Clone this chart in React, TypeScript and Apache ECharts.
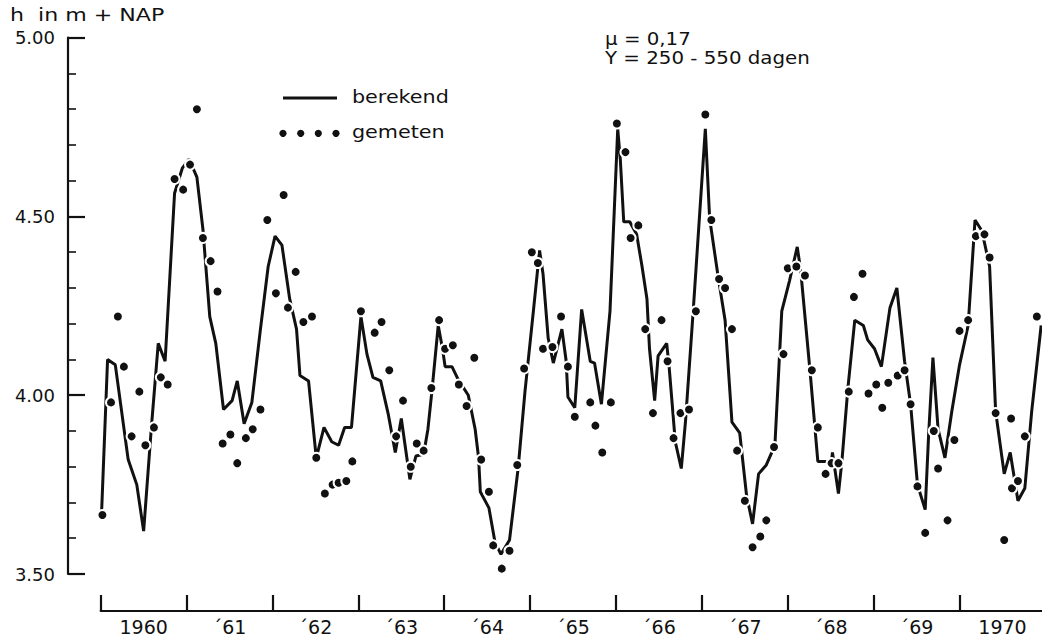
import React, { useEffect, useRef } from "react";
import * as echarts from "echarts";

// Berekende stijghoogte (h in m + NAP), [jaar, h]
const berekend: [number, number][] = [
  [1960.01, 3.67], [1960.08, 4.10], [1960.17, 4.085], [1960.32, 3.82], [1960.42, 3.75], [1960.50, 3.62],
  [1960.59, 3.91], [1960.67, 4.145], [1960.75, 4.095], [1960.86, 4.565], [1960.95, 4.635], [1961.03, 4.66],
  [1961.12, 4.61], [1961.19, 4.465], [1961.27, 4.22], [1961.34, 4.145], [1961.43, 3.96], [1961.53, 3.985],
  [1961.59, 4.04], [1961.67, 3.92], [1961.76, 3.98], [1961.86, 4.185], [1961.95, 4.36], [1962.03, 4.445],
  [1962.11, 4.42], [1962.20, 4.27], [1962.28, 4.185], [1962.32, 4.055], [1962.42, 4.04], [1962.51, 3.825],
  [1962.60, 3.91], [1962.69, 3.87], [1962.77, 3.86], [1962.84, 3.91], [1962.92, 3.91], [1963.03, 4.22],
  [1963.10, 4.115], [1963.17, 4.05], [1963.26, 4.04], [1963.35, 3.945], [1963.43, 3.84], [1963.50, 3.935],
  [1963.60, 3.765], [1963.67, 3.83], [1963.76, 3.835], [1963.81, 3.905], [1963.86, 4.02], [1963.93, 4.195],
  [1963.98, 4.13], [1964.01, 4.08], [1964.09, 4.08], [1964.16, 4.045], [1964.28, 4.00], [1964.36, 3.905],
  [1964.40, 3.825], [1964.42, 3.73], [1964.52, 3.685], [1964.59, 3.59], [1964.66, 3.555], [1964.76, 3.595],
  [1964.86, 3.795], [1964.94, 4.01], [1965.04, 4.24], [1965.11, 4.405], [1965.15, 4.34], [1965.21, 4.16],
  [1965.27, 4.09], [1965.37, 4.185], [1965.42, 4.095], [1965.44, 3.995], [1965.52, 3.965], [1965.60, 4.24],
  [1965.70, 4.095], [1965.75, 4.09], [1965.83, 3.975], [1965.93, 4.235], [1966.02, 4.745], [1966.05, 4.66],
  [1966.09, 4.485], [1966.16, 4.485], [1966.24, 4.45], [1966.30, 4.365], [1966.36, 4.27], [1966.39, 4.13],
  [1966.45, 3.985], [1966.49, 4.11], [1966.59, 4.145], [1966.62, 4.075], [1966.69, 3.87], [1966.76, 3.795],
  [1966.81, 3.93], [1966.90, 4.24], [1967.04, 4.745], [1967.09, 4.495], [1967.19, 4.33], [1967.27, 4.21],
  [1967.35, 3.925], [1967.44, 3.895], [1967.52, 3.72], [1967.59, 3.64], [1967.66, 3.78], [1967.75, 3.805],
  [1967.85, 3.86], [1967.93, 4.235], [1968.02, 4.32], [1968.11, 4.415], [1968.15, 4.35], [1968.26, 4.065],
  [1968.35, 3.815], [1968.51, 3.815], [1968.52, 3.84], [1968.59, 3.725], [1968.63, 3.815], [1968.70, 4.02],
  [1968.78, 4.21], [1968.88, 4.195], [1968.93, 4.155], [1969.01, 4.13], [1969.09, 4.08], [1969.19, 4.245],
  [1969.27, 4.30], [1969.36, 4.095], [1969.43, 3.975], [1969.51, 3.75], [1969.60, 3.68], [1969.64, 3.89],
  [1969.69, 4.105], [1969.75, 3.905], [1969.83, 3.825], [1969.91, 3.955], [1970.00, 4.085], [1970.10, 4.195],
  [1970.18, 4.49], [1970.26, 4.46], [1970.35, 4.36], [1970.42, 3.955], [1970.52, 3.78], [1970.59, 3.84],
  [1970.68, 3.705], [1970.76, 3.74], [1970.84, 3.955], [1970.95, 4.195],
];

// Gemeten stijghoogte (h in m + NAP), [jaar, h]
const gemeten: [number, number][] = [
  [1960.02, 3.665], [1960.12, 3.98], [1960.20, 4.22], [1960.27, 4.08], [1960.36, 3.885], [1960.45, 4.01],
  [1960.52, 3.86], [1960.62, 3.91], [1960.70, 4.05], [1960.78, 4.03], [1960.86, 4.605], [1960.96, 4.575],
  [1961.04, 4.645], [1961.12, 4.80], [1961.19, 4.44], [1961.28, 4.375], [1961.36, 4.29], [1961.42, 3.865],
  [1961.51, 3.89], [1961.59, 3.81], [1961.69, 3.88], [1961.77, 3.905], [1961.86, 3.96], [1961.94, 4.49],
  [1962.04, 4.285], [1962.13, 4.56], [1962.18, 4.245], [1962.27, 4.345], [1962.36, 4.205], [1962.46, 4.22],
  [1962.51, 3.825], [1962.61, 3.725], [1962.70, 3.75], [1962.77, 3.755], [1962.86, 3.76], [1962.93, 3.815],
  [1963.03, 4.235], [1963.19, 4.175], [1963.27, 4.205], [1963.36, 4.07], [1963.44, 3.885], [1963.52, 3.985],
  [1963.61, 3.80], [1963.68, 3.865], [1963.76, 3.845], [1963.85, 4.02], [1963.94, 4.21], [1964.01, 4.13],
  [1964.10, 4.14], [1964.17, 4.03], [1964.26, 3.97], [1964.35, 4.105], [1964.43, 3.82], [1964.52, 3.73],
  [1964.57, 3.58], [1964.67, 3.515], [1964.76, 3.565], [1964.85, 3.805], [1964.93, 4.075], [1965.02, 4.40],
  [1965.09, 4.37], [1965.15, 4.13], [1965.26, 4.135], [1965.36, 4.22], [1965.44, 4.08], [1965.52, 3.94],
  [1965.70, 3.98], [1965.76, 3.915], [1965.84, 3.84], [1965.94, 3.98], [1966.01, 4.76], [1966.11, 4.68],
  [1966.17, 4.44], [1966.26, 4.475], [1966.34, 4.185], [1966.43, 3.95], [1966.53, 4.21], [1966.60, 4.095],
  [1966.67, 3.88], [1966.75, 3.95], [1966.85, 3.96], [1966.93, 4.235], [1967.04, 4.785], [1967.11, 4.49],
  [1967.20, 4.325], [1967.27, 4.30], [1967.35, 4.185], [1967.41, 3.845], [1967.50, 3.705], [1967.59, 3.575],
  [1967.68, 3.605], [1967.75, 3.65], [1967.84, 3.855], [1967.95, 4.115], [1968.00, 4.355], [1968.10, 4.36],
  [1968.20, 4.335], [1968.28, 4.07], [1968.35, 3.91], [1968.44, 3.78], [1968.51, 3.81], [1968.59, 3.81],
  [1968.71, 4.01], [1968.77, 4.275], [1968.87, 4.34], [1968.94, 4.005], [1969.03, 4.03], [1969.10, 3.965],
  [1969.17, 4.035], [1969.28, 4.055], [1969.36, 4.07], [1969.43, 3.975], [1969.51, 3.745], [1969.60, 3.615],
  [1969.70, 3.90], [1969.75, 3.795], [1969.86, 3.65], [1969.94, 3.875], [1970.00, 4.18], [1970.10, 4.21],
  [1970.19, 4.445], [1970.29, 4.45], [1970.35, 4.385], [1970.42, 3.95], [1970.52, 3.595], [1970.60, 3.935],
  [1970.61, 3.74], [1970.68, 3.76], [1970.76, 3.885], [1970.90, 4.22],
];

// Jaargrenzen (streepjes) en jaartallen (midden van elk jaar)
const yearTicks = [1960, 1961, 1962, 1963, 1964, 1965, 1966, 1967, 1968, 1969, 1970];
const yearLabelPos = [1960.5, 1961.5, 1962.5, 1963.5, 1964.5, 1965.5, 1966.5, 1967.5, 1968.5, 1969.5, 1970.5];
const yearLabels = ["1960", "´61", "´62", "´63", "´64", "´65", "´66", "´67", "´68", "´69", "1970"];

const INK = "#111";
const FONT = "DejaVu Sans";

export default function App() {
  const ref = useRef<HTMLDivElement>(null);

  useEffect(() => {
    if (!ref.current) return;
    const chart = echarts.init(ref.current, null, { renderer: "svg" });
    const axisStroke = { color: INK, width: 2.2 };

    const txt = (text: string, x: number, y: number, size: number, sx: number) => ({
      type: "text",
      x,
      y,
      scaleX: sx,
      style: { text, fontSize: size, fontFamily: FONT, fill: INK, align: "left", verticalAlign: "middle" },
    });

    chart.setOption({
      animation: false,
      backgroundColor: "#fff",
      grid: { left: 100.7, right: 0, top: 37.7, bottom: 70 },
      xAxis: {
        type: "value",
        min: 1960,
        max: 1970.96,
        offset: 37,
        axisLine: { show: true, onZero: false, lineStyle: axisStroke },
        axisTick: { show: true, inside: true, length: 16, lineStyle: axisStroke, customValues: yearTicks },
        axisLabel: {
          show: true,
          customValues: yearLabelPos,
          formatter: (v: number) => {
            const i = Math.round(v - 1960.5);
            return yearLabels[i] ?? "";
          },
          color: INK,
          fontFamily: FONT,
          fontSize: 19,
          margin: 6,
        },
        splitLine: { show: false },
      },
      yAxis: {
        type: "value",
        min: 3.5,
        max: 5,
        interval: 0.5,
        offset: 32.7,
        axisLine: { show: true, onZero: false, lineStyle: axisStroke },
        axisTick: { show: true, inside: true, length: 17, lineStyle: axisStroke },
        minorTick: { show: true, splitNumber: 5, length: 8, lineStyle: { color: INK, width: 1.6 } },
        axisLabel: {
          formatter: (v: number) => v.toFixed(2),
          color: INK,
          fontFamily: FONT,
          fontSize: 18,
          margin: 13,
        },
        splitLine: { show: false },
        minorSplitLine: { show: false },
      },
      series: [
        {
          name: "berekend",
          type: "line",
          data: berekend,
          showSymbol: false,
          lineStyle: { color: INK, width: 3 },
          z: 2,
        },
        {
          name: "gemeten",
          type: "scatter",
          data: gemeten,
          symbolSize: 10,
          itemStyle: { color: INK, borderColor: "#fff", borderWidth: 2, opacity: 1 },
          z: 3,
        },
      ],
      graphic: [
        txt("h  in m + NAP", 10, 15, 17, 1.3),
        txt("μ = 0,17", 605, 38, 18, 1.1),
        txt("Y = 250 - 550 dagen", 605, 57, 18, 1.1),
        {
          type: "line",
          shape: { x1: 283, y1: 98, x2: 337, y2: 98 },
          style: { stroke: INK, lineWidth: 3 },
        },
        ...[283, 300.7, 318.3, 336].map((cx) => ({
          type: "circle",
          shape: { cx, cy: 133.3, r: 3.6 },
          style: { fill: INK },
        })),
        txt("berekend", 352, 97, 18, 1.15),
        txt("gemeten", 352, 132, 18, 1.15),
      ],
    });

    return () => chart.dispose();
  }, []);

  return (
    <div
      ref={ref}
      style={{ position: "fixed", left: 0, top: 0, width: 1042, height: 644, background: "#fff" }}
    />
  );
}
